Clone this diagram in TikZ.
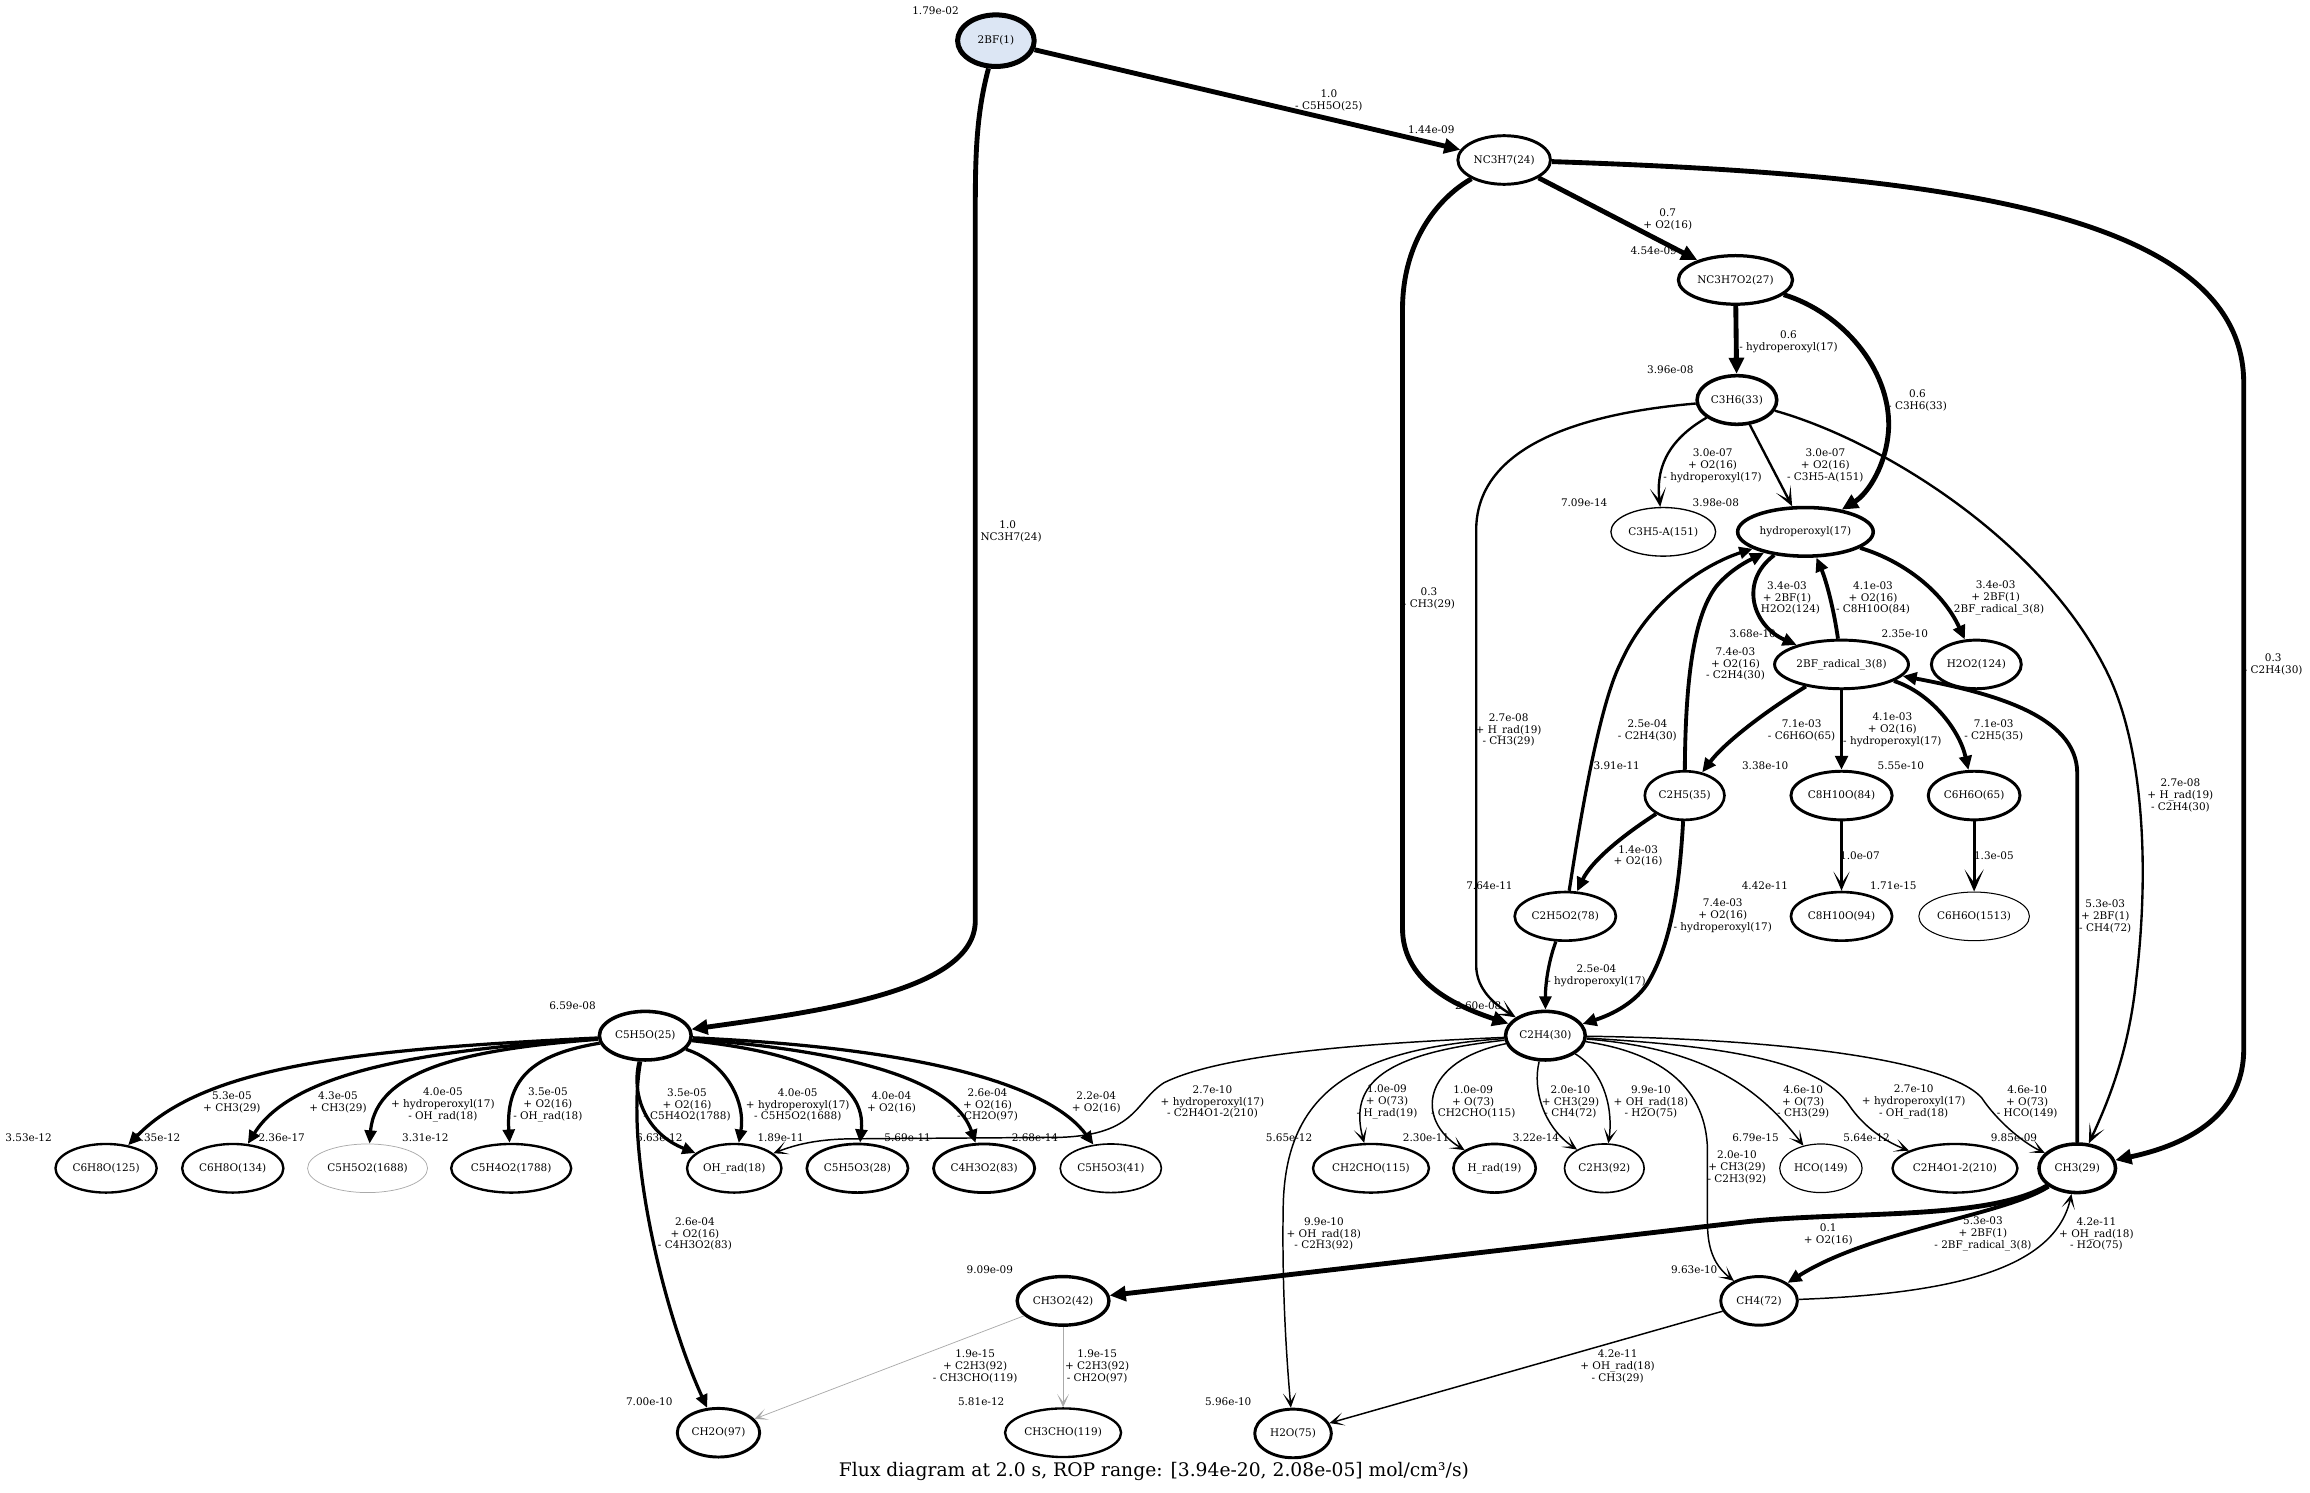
\documentclass[tikz,border=0pt]{standalone}
\usepackage{fontspec}
\setmainfont{DejaVu Serif}
\usetikzlibrary{arrows.meta,shapes.geometric}
\definecolor{bfblue}{RGB}{220,230,244}
\definecolor{lg}{RGB}{170,170,170}
\newcommand\flbl{\fontsize{7.1}{8.1}\selectfont}
\begin{document}
\begin{tikzpicture}[x=1pt,y=-1pt,
  sp/.style={ellipse,draw,inner xsep=1.5pt,inner ysep=0pt,minimum height=33pt,minimum width=52pt,font=\flbl},
  lab/.style={align=center,inner sep=0pt,font=\flbl},
  ew1/.style={line width=3.3pt,-{Triangle[length=11pt,width=10pt]}},
  ew2/.style={line width=2.6pt,-{Triangle[length=9.5pt,width=8.5pt]}},
  ew3/.style={line width=2.2pt,-{Triangle[length=9pt,width=8pt]}},
  ew3v/.style={line width=2.2pt,-{Stealth[length=15pt,width=13pt,inset=9pt]}},
  ew4/.style={line width=1.6pt,-{Stealth[length=13pt,width=11pt,inset=8pt]}},
  ew5/.style={line width=1.0pt,-{Stealth[length=10pt,width=9pt,inset=6pt]}},
  ew6/.style={line width=0.5pt,draw=lg,-{Stealth[length=9pt,width=8pt,inset=5.5pt]}},
]
\useasboundingbox (0,0) rectangle (1568,1013);

% ---------------- species nodes ----------------
\node[sp,line width=3.4pt,fill=bfblue,minimum height=35pt] (n1) at (676,27.6) {2BF(1)};
\node[sp,line width=2.0pt] (n2) at (1021,108.6) {NC3H7(24)};
\node[sp,line width=2.2pt] (n3) at (1178,190) {NC3H7O2(27)};
\node[sp,line width=2.4pt] (n4) at (1179,271.5) {C3H6(33)};
\node[sp,line width=0.9pt] (n5) at (1129,361) {C3H5-A(151)};
\node[sp,line width=2.4pt] (n6) at (1225.5,361) {hydroperoxyl(17)};
\node[sp,line width=2.0pt] (n7) at (1250,451) {2BF\_radical\_3(8)};
\node[sp,line width=2.0pt] (n8) at (1341.5,451) {H2O2(124)};
\node[sp,line width=1.8pt] (n9) at (1143.5,540) {C2H5(35)};
\node[sp,line width=2.0pt] (n10) at (1250,540) {C8H10O(84)};
\node[sp,line width=2.0pt] (n11) at (1340,540) {C6H6O(65)};
\node[sp,line width=1.8pt] (n12) at (1062.5,622) {C2H5O2(78)};
\node[sp,line width=1.8pt] (n13) at (1250,622) {C8H10O(94)};
\node[sp,line width=0.7pt] (n14) at (1340,622) {C6H6O(1513)};
\node[sp,line width=2.4pt] (n15) at (1049,703) {C2H4(30)};
\node[sp,line width=2.4pt] (n16) at (438,703) {C5H5O(25)};
\node[sp,line width=1.6pt] (n17) at (72,793) {C6H8O(125)};
\node[sp,line width=1.6pt] (n18) at (158,793) {C6H8O(134)};
\node[sp,line width=0.5pt,draw=lg] (n19) at (249.5,793) {C5H5O2(1688)};
\node[sp,line width=1.6pt] (n20) at (347,793) {C5H4O2(1788)};
\node[sp,line width=1.6pt] (n21) at (498.4,793) {OH\_rad(18)};
\node[sp,line width=1.8pt] (n22) at (582,793) {C5H5O3(28)};
\node[sp,line width=1.9pt] (n23) at (668,793) {C4H3O2(83)};
\node[sp,line width=1.1pt] (n24) at (754,793) {C5H5O3(41)};
\node[sp,line width=1.6pt] (n25) at (930.6,793) {CH2CHO(115)};
\node[sp,line width=1.8pt] (n26) at (1014.5,793) {H\_rad(19)};
\node[sp,line width=1.1pt] (n27) at (1089,793) {C2H3(92)};
\node[sp,line width=0.8pt] (n28) at (1236,793) {HCO(149)};
\node[sp,line width=1.6pt] (n29) at (1327,793) {C2H4O1-2(210)};
\node[sp,line width=2.4pt] (n30) at (1410,793) {CH3(29)};
\node[sp,line width=2.3pt] (n31) at (721.6,883) {CH3O2(42)};
\node[sp,line width=2.0pt] (n32) at (1194,883) {CH4(72)};
\node[sp,line width=2.0pt] (n33) at (487.7,972.5) {CH2O(97)};
\node[sp,line width=1.6pt] (n34) at (721.6,972.5) {CH3CHO(119)};
\node[sp,line width=2.0pt] (n35) at (877.7,973) {H2O(75)};

% ---------------- concentration labels ----------------
\node[lab] (c1) at (635,7) {1.79e-02};
\node[lab] (c2) at (971.6,88.2) {1.44e-09};
\node[lab] (c3) at (1122.5,170) {4.54e-09};
\node[lab] (c4) at (1133.8,251.2) {3.96e-08};
\node[lab] (c5) at (1075.3,341) {7.09e-14};
\node[lab] (c6) at (1164.7,341) {3.98e-08};
\node[lab] (c7) at (1189.7,430.4) {3.68e-10};
\node[lab] (c8) at (1293,430.4) {2.35e-10};
\node[lab] (c9) at (1097.4,520) {3.91e-11};
\node[lab] (c10) at (1198.2,520) {3.38e-10};
\node[lab] (c11) at (1290.2,520) {5.55e-10};
\node[lab] (c12) at (1011,601.2) {7.64e-11};
\node[lab] (c13) at (1198,601.2) {4.42e-11};
\node[lab] (c14) at (1285.2,601.2) {1.71e-15};
\node[lab] (c15) at (1003.4,682.9) {2.60e-08};
\node[lab] (c16) at (388.6,682.9) {6.59e-08};
\node[lab] (c17) at (19.4,772.5) {3.53e-12};
\node[lab] (c18) at (106.7,772.5) {5.35e-12};
\node[lab] (c19) at (191.2,772.5) {2.36e-17};
\node[lab] (c20) at (288.7,772.5) {3.31e-12};
\node[lab] (c21) at (447.5,772.5) {6.63e-12};
\node[lab] (c22) at (529.9,772.5) {1.89e-11};
\node[lab] (c23) at (616.1,772.5) {5.69e-11};
\node[lab] (c24) at (702.5,772.5) {2.68e-14};
\node[lab] (c25) at (875,772.5) {5.65e-12};
\node[lab] (c26) at (968,772.5) {2.30e-11};
\node[lab] (c27) at (1042.6,772.5) {3.22e-14};
\node[lab] (c28) at (1191.6,772.5) {6.79e-15};
\node[lab] (c29) at (1267,772.5) {5.64e-12};
\node[lab] (c30) at (1367,772.5) {9.85e-09};
\node[lab] (c31) at (671.9,862) {9.09e-09};
\node[lab] (c32) at (1150,862) {9.63e-10};
\node[lab] (c33) at (440.7,951.7) {7.00e-10};
\node[lab] (c34) at (666,951.7) {5.81e-12};
\node[lab] (c35) at (833.7,951.7) {5.96e-10};

% ---------------- edges ----------------
\draw[ew1] (n1) -- (n2);
\draw[ew1] (n1) .. controls (662,80) and (662,110) .. (662,150) -- (662,625) .. controls (662,672) and (560,686) .. (n16);
\draw[ew1] (n2) -- (n3);
\draw[ew1] (n2) .. controls (975,135) and (952,165) .. (952,210) -- (952,630) .. controls (952,665) and (985,682) .. (n15);
\draw[ew1] (n2) .. controls (1300,118) and (1523,140) .. (1523,260) -- (1523,712) .. controls (1523,760) and (1480,778) .. (n30);
\draw[ew1] (n3) -- (n4);
\draw[ew1] (n3) .. controls (1250,212) and (1283,250) .. (1282,290) .. controls (1281,315) and (1268,335) .. (n6);
\draw[ew4] (n4) .. controls (1080,280) and (1002,300) .. (1002,360) -- (1002,655) .. controls (1002,672) and (1015,682) .. (n15);
\draw[ew4] (n4) .. controls (1130,300) and (1124,320) .. (n5);
\draw[ew4] (n4) -- (n6);
\draw[ew4] (n4) .. controls (1280,300) and (1390,370) .. (1432,460) .. controls (1455,510) and (1459,590) .. (1450,665) .. controls (1445,715) and (1430,750) .. (n30);
\draw[ew2] (n6) .. controls (1180,395) and (1190,425) .. (n7);
\draw[ew2] (n7) .. controls (1245,415) and (1240,395) .. (n6);
\draw[ew2] (n6) .. controls (1290,380) and (1318,400) .. (n8);
\draw[ew2] (n9) .. controls (1144,470) and (1148,420) .. (1165,398) .. controls (1175,386) and (1188,380) .. (n6);
\draw[ew3] (n12) .. controls (1072,560) and (1085,480) .. (1100,450) .. controls (1120,405) and (1160,382) .. (n6);
\draw[ew2] (n7) .. controls (1195,485) and (1170,505) .. (n9);
\draw[ew2] (n7) -- (n10);
\draw[ew2] (n7) .. controls (1310,470) and (1330,495) .. (n11);
\draw[ew2] (n30) -- (1410,525) .. controls (1410,485) and (1350,470) .. (n7);
\draw[ew2] (n9) .. controls (1100,568) and (1080,585) .. (n12);
\draw[ew2] (n9) .. controls (1140,600) and (1135,640) .. (1118,668) .. controls (1108,683) and (1090,690) .. (n15);
\draw[ew3] (n12) .. controls (1052,650) and (1049,665) .. (n15);
\draw[ew4] (n10) -- (n13);
\draw[ew3v] (n11) -- (n14);
% from C5H5O
\draw[ew3] (n16) .. controls (250,712) and (140,722) .. (n17);
\draw[ew3] (n16) .. controls (300,712) and (200,725) .. (n18);
\draw[ew3] (n16) .. controls (320,712) and (255,725) .. (n19);
\draw[ew3] (n16) .. controls (365,715) and (343,730) .. (n20);
\draw[ew3] (n16) .. controls (424,780) and (450,890) .. (n33);
\draw[ew3] (n16) .. controls (428,745) and (440,770) .. (n21);
\draw[ew3] (n16) .. controls (495,722) and (506,750) .. (n21);
\draw[ew3] (n16) .. controls (550,715) and (588,735) .. (n22);
\draw[ew3] (n16) .. controls (600,715) and (650,740) .. (n23);
\draw[ew3] (n16) .. controls (640,712) and (715,740) .. (n24);
% from C2H4
\draw[ew5] (n15) .. controls (930,708) and (830,715) .. (790,735) .. controls (770,748) and (772,770) .. (720,772) -- (580,773) .. controls (555,773) and (540,777) .. (n21);
\draw[ew5] (n15) .. controls (940,715) and (915,735) .. (n25);
\draw[ew5] (n15) .. controls (965,720) and (960,760) .. (n26);
\draw[ew5] (n15) .. controls (920,712) and (872,740) .. (871,820) .. controls (870,880) and (874,930) .. (n35);
\draw[ew5] (n15) .. controls (1040,740) and (1048,765) .. (n27);
\draw[ew5] (n15) .. controls (1090,728) and (1095,755) .. (n27);
\draw[ew5] (n15) .. controls (1130,715) and (1158,740) .. (1159,780) -- (1159,830) .. controls (1159,850) and (1165,860) .. (n32);
\draw[ew5] (n15) .. controls (1160,712) and (1195,740) .. (n28);
\draw[ew5] (n15) .. controls (1170,710) and (1235,720) .. (1255,750) .. controls (1265,765) and (1280,775) .. (n29);
\draw[ew5] (n15) .. controls (1200,705) and (1320,718) .. (1345,745) .. controls (1355,760) and (1372,775) .. (n30);
% bottom
\draw[ew1] (n30) .. controls (1350,828) and (1260,822) .. (1188,829) -- (n31);
\draw[ew2] (n30) .. controls (1360,825) and (1270,835) .. (n32);
\draw[ew5] (n32) .. controls (1330,878) and (1395,860) .. (n30);
\draw[ew6] (n31) -- (n33);
\draw[ew6] (n31) -- (n34);
\draw[ew5] (n32) -- (n35);

% ---------------- edge labels ----------------
\node[lab] (l1) at (902,68) {1.0\\- C5H5O(25)};
\node[lab] (l2) at (684,361) {1.0\\- NC3H7(24)};
\node[lab] (l3) at (1132,149) {0.7\\+ O2(16)};
\node[lab] (l4) at (970,406) {0.3\\- CH3(29)};
\node[lab] (l5) at (1543,451) {0.3\\- C2H4(30)};
\node[lab] (l6) at (1214,231.7) {0.6\\- hydroperoxyl(17)};
\node[lab] (l7) at (1301.6,271.6) {0.6\\- C3H6(33)};
\node[lab] (l8) at (1162.5,316.1) {3.0e-07\\+ O2(16)\\- hydroperoxyl(17)};
\node[lab] (l9) at (1239,316.1) {3.0e-07\\+ O2(16)\\- C3H5-A(151)};
\node[lab] (l10) at (1024,495.5) {2.7e-08\\+ H\_rad(19)\\- CH3(29)};
\node[lab] (l11) at (1480,540) {2.7e-08\\+ H\_rad(19)\\- C2H4(30)};
\node[lab] (l12) at (1213,405.9) {3.4e-03\\+ 2BF(1)\\- H2O2(124)};
\node[lab] (l13) at (1271.4,405.9) {4.1e-03\\+ O2(16)\\- C8H10O(84)};
\node[lab] (l14) at (1354.6,405.9) {3.4e-03\\+ 2BF(1)\\- 2BF\_radical\_3(8)};
\node[lab] (l15) at (1178,450.7) {7.4e-03\\+ O2(16)\\- C2H4(30)};
\node[lab] (l16) at (1118.2,495.7) {2.5e-04\\- C2H4(30)};
\node[lab] (l17) at (1222.9,495.7) {7.1e-03\\- C6H6O(65)};
\node[lab] (l18) at (1284.5,495.5) {4.1e-03\\+ O2(16)\\- hydroperoxyl(17)};
\node[lab] (l19) at (1353.3,495.7) {7.1e-03\\- C2H5(35)};
\node[lab] (l20) at (1429,622) {5.3e-03\\+ 2BF(1)\\- CH4(72)};
\node[lab] (l21) at (1111.9,581) {1.4e-03\\+ O2(16)};
\node[lab] (l22) at (1169.4,621.7) {7.4e-03\\+ O2(16)\\- hydroperoxyl(17)};
\node[lab] (l23) at (1083.7,662.6) {2.5e-04\\- hydroperoxyl(17)};
\node[lab] (l24) at (1262.5,581) {1.0e-07};
\node[lab] (l25) at (1353.4,581) {1.3e-05};
\node[lab] (l26) at (157.4,748) {5.3e-05\\+ CH3(29)};
\node[lab] (l27) at (229.4,748) {4.3e-05\\+ CH3(29)};
\node[lab] (l28) at (300.6,750) {4.0e-05\\+ hydroperoxyl(17)\\- OH\_rad(18)};
\node[lab] (l29) at (371.9,750) {3.5e-05\\+ O2(16)\\- OH\_rad(18)};
\node[lab] (l30) at (466.3,750) {3.5e-05\\+ O2(16)\\- C5H4O2(1788)};
\node[lab] (l31) at (541.5,750) {4.0e-05\\+ hydroperoxyl(17)\\- C5H5O2(1688)};
\node[lab] (l32) at (605.1,748) {4.0e-04\\+ O2(16)};
\node[lab] (l33) at (670.3,750) {2.6e-04\\+ O2(16)\\- CH2O(97)};
\node[lab] (l34) at (744.1,748) {2.2e-04\\+ O2(16)};
\node[lab] (l35) at (471.7,837.6) {2.6e-04\\+ O2(16)\\- C4H3O2(83)};
\node[lab] (l36) at (823,748) {2.7e-10\\+ hydroperoxyl(17)\\- C2H4O1-2(210)};
\node[lab] (l37) at (941.5,748) {1.0e-09\\+ O(73)\\- H\_rad(19)};
\node[lab] (l38) at (1000,748) {1.0e-09\\+ O(73)\\- CH2CHO(115)};
\node[lab] (l39) at (1066,748) {2.0e-10\\+ CH3(29)\\- CH4(72)};
\node[lab] (l40) at (1120.6,748) {9.9e-10\\+ OH\_rad(18)\\- H2O(75)};
\node[lab] (l41) at (1224,748) {4.6e-10\\+ O(73)\\- CH3(29)};
\node[lab] (l42) at (1299,748) {2.7e-10\\+ hydroperoxyl(17)\\- OH\_rad(18)};
\node[lab] (l43) at (1376,748) {4.6e-10\\+ O(73)\\- HCO(149)};
\node[lab] (l44) at (1179,792.6) {2.0e-10\\+ CH3(29)\\- C2H3(92)};
\node[lab] (l45) at (898.6,837.6) {9.9e-10\\+ OH\_rad(18)\\- C2H3(92)};
\node[lab] (l46) at (1241,838) {0.1\\+ O2(16)};
\node[lab] (l47) at (1346,837.6) {5.3e-03\\+ 2BF(1)\\- 2BF\_radical\_3(8)};
\node[lab] (l48) at (1423,837.6) {4.2e-11\\+ OH\_rad(18)\\- H2O(75)};
\node[lab] (l49) at (661.9,927.3) {1.9e-15\\+ C2H3(92)\\- CH3CHO(119)};
\node[lab] (l50) at (744.7,927.3) {1.9e-15\\+ C2H3(92)\\- CH2O(97)};
\node[lab] (l51) at (1098,927.3) {4.2e-11\\+ OH\_rad(18)\\- CH3(29)};

\node[inner sep=0pt,font=\fontsize{12.7}{15}\selectfont] (title) at (783.3,999) {Flux diagram at 2.0 s, ROP range: [3.94e-20, 2.08e-05] mol/cm³/s)};
\end{tikzpicture}
\end{document}
